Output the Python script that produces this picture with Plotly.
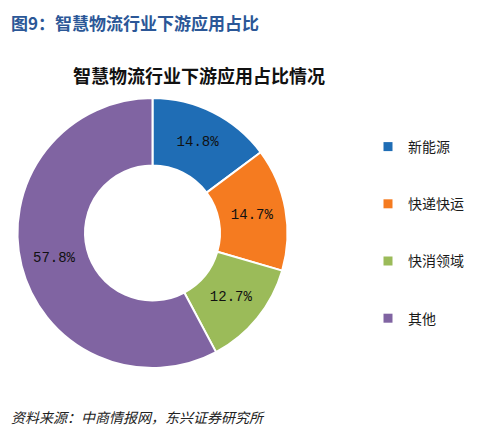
import plotly.graph_objects as go

categories = ["新能源", "快递快运", "快消领域", "其他"]
values = [14.8, 14.7, 12.7, 57.8]
colors = ["#1f6db5", "#f57b20", "#9bbb59", "#8064a2"]

W, H, OFF = 484, 423, 8  # page has an 8px body margin


def px(x):
    return (x - OFF) / W


def py(y):
    return 1 - (y - OFF) / H


fig = go.Figure()
fig.add_trace(go.Pie(
    labels=categories, values=values, sort=False, direction="clockwise", rotation=0,
    hole=0.5, marker=dict(colors=colors, line=dict(color="white", width=2)),
    texttemplate="%{value:.1f}%", textposition="inside", insidetextorientation="horizontal",
    textfont=dict(family="Liberation Mono, monospace", size=14, color="#111111"),
    domain=dict(x=[px(17.5), px(287.5)], y=[py(368), py(98)]), showlegend=False,
    hoverinfo="label+percent",
))
for i, (c, col) in enumerate(zip(categories, colors)):
    fig.add_trace(go.Scatter(
        x=[None], y=[None], mode="markers", name=c, legendgroup=f"g{i}",
        marker=dict(symbol="square", size=9, color=col),
    ))

fig.update_layout(
    width=W, height=H, margin=dict(l=0, r=0, t=0, b=0),
    paper_bgcolor="white", plot_bgcolor="white",
    xaxis=dict(visible=False, domain=[0.98, 1.0]), yaxis=dict(visible=False),
    legend=dict(x=px(368), y=py(131), xanchor="left", yanchor="top", tracegroupgap=36,
                font=dict(family="Noto Sans CJK SC", size=14, color="#1a1a1a"),
                itemwidth=30, bgcolor="rgba(0,0,0,0)"),
    font=dict(family="Noto Sans CJK SC"),
    annotations=[
        dict(text="<b>图9：智慧物流行业下游应用占比</b>", x=px(9), y=py(8), xref="paper", yref="paper",
             xanchor="left", yanchor="top", showarrow=False,
             font=dict(family="Noto Sans CJK SC", size=17, color="#2b5797")),
        dict(text="<b>智慧物流行业下游应用占比情况</b>", x=px(199), y=py(75), xref="paper", yref="paper",
             xanchor="center", yanchor="middle", showarrow=False,
             font=dict(family="Noto Sans CJK SC", size=18, color="#111111")),
        dict(text="<i>资料来源：中商情报网，东兴证券研究所</i>", x=px(9), y=py(417), xref="paper", yref="paper",
             xanchor="left", yanchor="middle", showarrow=False,
             font=dict(family="Noto Sans CJK SC", size=14, color="#222222")),
    ],
)
fig.write_html("out.html")
